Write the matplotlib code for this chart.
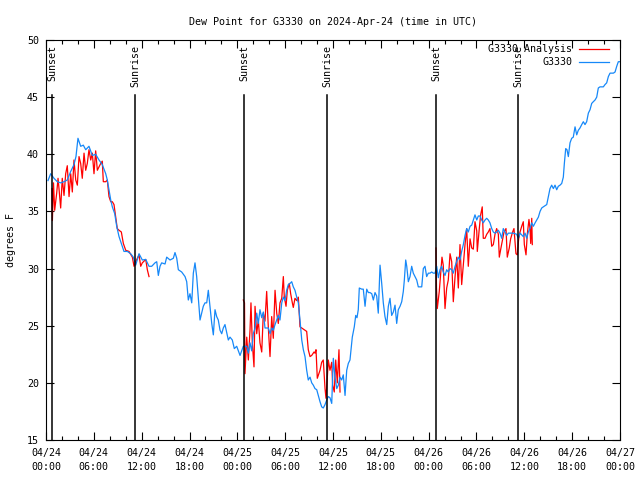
import matplotlib

matplotlib.use("Agg")
import matplotlib.pyplot as plt
from matplotlib.ticker import MultipleLocator

# hours since 2024-04-24 00:00 UTC
OBS_HOURS = [
    0.25, 0.59, 1.00, 1.42, 1.84, 2.26, 2.67, 3.10, 3.51, 3.76, 4.01, 4.35, 4.68, 4.98,
    5.39, 5.81, 6.23, 6.65, 7.06, 7.49, 7.69, 8.12, 8.32, 8.62, 8.87, 9.16, 9.45, 9.78,
    10.20, 10.62, 10.95, 11.25, 11.67, 12.08, 12.51, 12.92, 13.26, 13.67, 13.89, 14.09,
    14.30, 14.51, 14.93, 15.14, 15.56, 15.97, 16.18, 16.40, 16.60, 17.02, 17.44, 17.65,
    17.85, 18.06, 18.28, 18.48, 18.69, 18.90, 19.10, 19.32, 19.53, 19.73, 19.94, 20.16,
    20.36, 20.57, 20.79, 20.99, 21.20, 21.41, 21.61, 21.83, 22.04, 22.24, 22.45, 22.67,
    22.87, 23.08, 23.37, 23.62, 23.92, 24.34, 24.75, 25.18, 25.38, 25.59, 25.80, 26.00,
    26.22, 26.43, 26.63, 26.84, 27.06, 27.26, 27.47, 27.89, 28.10, 28.31, 28.51, 28.73,
    28.94, 29.14, 29.35, 29.57, 29.77, 29.98, 30.19, 30.39, 30.61, 30.82, 31.02, 31.23,
    31.45, 31.65, 31.86, 32.08, 32.28, 32.49, 32.70, 32.90, 33.12, 33.33, 33.53, 33.74,
    33.96, 34.16, 34.37, 34.58, 34.78, 35.00, 35.21, 35.41, 35.62, 35.84, 36.04, 36.25,
    36.47, 36.67, 36.88, 37.09, 37.29, 37.51, 37.72, 37.92, 38.13, 38.42, 38.67, 38.85,
    39.01, 39.17, 39.30, 39.60, 39.80, 40.02, 40.23, 40.43, 40.64, 40.86, 41.06, 41.27,
    41.48, 41.68, 41.90, 42.11, 42.31, 42.52, 42.74, 42.94, 43.15, 43.36, 43.57, 43.78,
    43.99, 44.19, 44.41, 44.62, 44.82, 44.95, 45.12, 45.25, 45.45, 45.66, 45.87, 46.07,
    46.29, 46.50, 46.70, 46.92, 47.13, 47.33, 47.54, 47.75, 47.96, 48.17, 48.38, 48.58,
    48.80, 49.01, 49.21, 49.42, 49.63, 49.83, 50.05, 50.26, 50.46, 50.68, 50.89, 51.09,
    51.31, 51.52, 51.72, 51.93, 52.14, 52.35, 52.56, 52.77, 52.97, 53.19, 53.40, 53.60,
    53.81, 54.03, 54.23, 54.44, 54.65, 54.85, 55.07, 55.28, 55.48, 55.69, 55.91, 56.11,
    56.32, 56.53, 56.74, 56.95, 57.16, 57.36, 57.58, 57.79, 57.99, 58.20, 58.62, 59.04,
    59.24, 59.46, 59.87, 60.09, 60.30, 60.50, 60.71, 60.93, 61.13, 61.35, 61.56, 61.76,
    61.97, 62.18, 62.38, 62.81, 63.01, 63.22, 63.43, 63.64, 63.85, 64.06, 64.26, 64.48,
    64.69, 64.89, 65.02, 65.19, 65.35, 65.52, 65.73, 65.94, 66.14, 66.36, 66.57, 66.77,
    66.98, 67.20, 67.40, 67.61, 67.82, 68.03, 68.24, 68.45, 68.65, 68.87, 69.08, 69.28,
    69.49, 69.91, 70.12, 70.33, 70.54, 70.75, 71.17, 71.38, 71.59, 71.79, 72.00,
]
OBS_DEWPT = [
    37.7, 38.3, 37.9, 37.6, 37.5, 37.6, 37.75, 38.5, 39.1, 39.8, 41.4, 40.7, 40.8, 40.4,
    40.7, 39.9, 40.0, 39.5, 39.1, 38.3, 37.75, 36.0, 35.4, 34.8, 33.7, 32.8, 32.2, 31.5,
    31.5, 31.3, 31.0, 30.3, 31.3, 30.75, 30.8, 30.2, 30.2, 30.5, 30.6, 29.4,
    30.2, 30.5, 30.4, 31.0, 30.75, 30.9, 31.4, 30.9, 29.9, 29.7, 29.3, 28.85,
    27.25, 27.8, 27.0, 29.6, 30.5, 29.3, 27.5, 25.5, 26.1, 26.7, 27.0, 27.0,
    28.1, 26.7, 25.2, 24.2, 26.4, 25.8, 25.5, 24.6, 24.3, 24.8, 25.1, 24.4,
    23.75, 24.0, 23.75, 23.0, 23.2, 22.4, 23.2, 23.2, 22.6, 23.5, 22.8, 24.3,
    24.8, 26.1, 25.2, 26.4, 25.7, 26.2, 24.8, 24.8, 24.3, 24.8, 24.6, 25.1,
    25.5, 25.9, 25.5, 27.0, 27.5, 27.2, 28.1, 28.6, 28.7, 28.85, 28.4, 28.1,
    27.5, 27.0, 25.5, 23.75, 22.9, 22.3, 21.1, 20.25, 20.5, 20.0, 19.8, 19.5,
    19.4, 18.9, 18.35, 17.9, 17.8, 18.1, 18.5, 18.8, 18.7, 18.2, 22.15, 20.5,
    19.5, 19.8, 20.5, 20.25, 20.7, 18.9, 21.1, 21.7, 22.0, 24.0, 24.9, 25.9,
    25.7, 26.4, 28.3, 28.2, 28.2, 26.7, 28.2, 27.9, 27.9, 27.8, 27.25, 27.9,
    27.6, 26.1, 30.3, 28.7, 27.0, 25.8, 25.1, 26.7, 27.4, 25.9, 26.2, 26.8,
    25.2, 26.4, 26.7, 27.1, 28.0, 29.0, 30.75, 30.2, 28.85, 29.3, 30.2, 29.6,
    29.3, 29.0, 28.4, 28.4, 28.4, 30.0, 30.2, 29.3, 29.6, 29.6, 29.7, 29.6,
    29.6, 30.2, 29.2, 29.9, 30.2, 29.7, 29.4, 29.9, 29.7, 30.0, 29.9, 29.6,
    30.2, 30.6, 31.0, 30.75, 31.5, 32.1, 32.9, 33.5, 33.2, 33.7, 33.8, 34.25,
    34.7, 34.25, 34.6, 34.6, 34.25, 34.0, 34.25, 34.4, 34.25, 34.0, 33.5, 33.2,
    33.1, 33.2, 33.35, 33.1, 32.65, 33.5, 33.2, 32.9, 33.1, 33.1, 33.1, 33.0,
    32.65, 33.1, 32.8, 33.1, 32.65, 33.2, 33.5, 34.0, 33.7, 34.0, 34.25, 34.5,
    35.0, 35.3, 35.4, 35.6, 36.3, 37.0, 37.3, 37.0, 37.3, 36.9, 37.2, 37.3,
    37.45, 38.0, 39.2, 40.5, 40.4, 39.8, 41.0, 41.4, 41.5, 42.4, 41.7, 42.1,
    42.3, 42.6, 42.85, 42.6, 42.85, 43.6, 43.9, 44.45, 44.6, 44.75, 45.0, 45.8,
    45.9, 45.9, 46.1, 46.25, 46.8, 47.1, 47.1, 47.2, 47.7, 48.1, 48.1,
]

# analysis only covers ~12 h after each sunset; None breaks the line
ANA_HOURS = [
    0.75, 0.80, 0.94, 1.09, 1.34, 1.51, 1.63, 1.84, 2.04, 2.26, 2.47, 2.67, 2.89, 3.10,
    3.30, 3.51, 3.73, 3.93, 4.14, 4.35, 4.55, 4.77, 4.98, 5.18, 5.39, 5.61, 5.81, 6.02,
    6.23, 6.44, 6.65, 6.86, 7.06, 7.19, 7.49, 7.69, 7.90, 8.12, 8.32, 8.53, 8.74, 8.94,
    9.16, 9.45, 9.70, 10.00, 10.41, 10.83, 11.04, 11.25, 11.67, 11.88, 12.08, 12.51,
    12.71, 12.92, 13.0,
    24.75, 24.90, 24.96, 25.18, 25.38, 25.59, 25.71, 25.88, 26.09, 26.22, 26.43, 26.63,
    26.84, 27.06, 27.26, 27.47, 27.68, 27.89, 28.10, 28.31, 28.51, 28.73, 28.94, 29.14,
    29.35, 29.57, 29.77, 29.89, 30.11, 30.27, 30.52, 30.69, 30.90, 31.02, 31.23, 31.45,
    31.65, 31.86, 32.08, 32.49, 32.70, 32.90, 33.12, 33.33, 33.62, 33.74, 33.87, 34.03,
    34.37, 34.58, 34.78, 35.00, 35.12, 35.29, 35.41, 35.62, 35.84, 35.96, 36.16, 36.34,
    36.54, 36.75, 36.88, 37.0,
    48.92, 48.98, 49.08, 49.33, 49.55, 49.67, 49.83, 50.05, 50.26, 50.46, 50.68, 50.89,
    51.09, 51.31, 51.52, 51.72, 51.93, 52.14, 52.35, 52.56, 52.77, 52.97, 53.19, 53.40,
    53.60, 53.81, 54.03, 54.10, 54.35, 54.52, 54.72, 54.85, 55.07, 55.28, 55.48, 55.69,
    55.91, 56.11, 56.32, 56.53, 56.74, 56.86, 57.04, 57.29, 57.45, 57.70, 57.86, 58.11,
    58.28, 58.53, 58.70, 58.95, 59.12, 59.29, 59.46, 59.67, 59.87, 60.00, 60.21, 60.37,
    60.58, 60.71, 60.80, 60.93, 61.00,
]
ANA_DEWPT = [
    37.0, 34.2, 37.5, 35.1, 36.6, 37.9, 37.0, 35.3, 37.9, 36.4, 38.3, 39.0, 36.3, 38.3,
    36.7, 39.5, 37.75, 37.3, 39.8, 39.2, 37.9, 40.1, 38.6, 39.2, 40.4, 39.5, 40.1, 38.3,
    40.3, 38.6, 38.9, 39.2, 39.4, 37.6, 37.6, 37.75, 36.3, 35.85, 35.85, 35.6, 34.55, 33.5,
    33.35, 33.2, 32.2, 31.6, 31.5, 31.0, 30.2, 30.6, 31.2, 30.2, 30.5, 30.8,
    29.9, 29.3, None,
    27.25, 27.0, 20.8, 24.0, 22.0, 24.6, 27.0, 23.5, 21.4, 26.7, 24.3, 25.5,
    23.5, 22.7, 26.1, 25.4, 28.0, 24.8, 22.3, 25.8, 23.9, 28.1, 26.1, 25.2,
    27.0, 27.4, 29.3, 27.5, 26.7, 28.1, 28.7, 27.8, 27.0, 26.6, 27.4, 27.2,
    27.5, 24.9, 24.8, 24.6, 24.5, 22.9, 22.3, 22.4, 22.7, 22.6, 22.9, 20.4,
    21.1, 21.8, 22.0, 19.5, 18.65, 20.5, 22.0, 21.1, 21.8, 19.8, 19.2, 22.0,
    20.0, 22.9, 19.2, None,
    31.8, 28.3, 26.5, 28.0, 30.0, 31.0, 30.3, 26.5, 28.3, 29.0, 31.3, 30.6,
    27.1, 29.3, 31.0, 28.3, 32.1, 28.6, 30.3, 32.1, 33.5, 30.2, 32.6, 31.8,
    31.7, 34.1, 33.3, 31.5, 33.5, 34.7, 35.4, 32.65, 32.65, 33.0, 33.2, 33.5,
    31.95, 32.1, 33.0, 33.5, 33.0, 31.0, 31.7, 32.6, 33.2, 33.5, 31.0, 31.8,
    32.6, 33.2, 33.5, 31.3, 31.2, 32.6, 33.2, 33.7, 34.1, 32.1, 31.2, 33.0,
    34.3, 33.5, 32.2, 34.4, 32.1,
]

SUN_HOURS = [0.78, 11.16, 24.86, 35.25, 48.94, 59.21]
SUN_LABELS = ["Sunset", "Sunrise", "Sunset", "Sunrise", "Sunset", "Sunrise"]

X_TICKS = [0, 6, 12, 18, 24, 30, 36, 42, 48, 54, 60, 66, 72]
X_TICK_LABELS = [
    "04/24\n00:00", "04/24\n06:00", "04/24\n12:00", "04/24\n18:00",
    "04/25\n00:00", "04/25\n06:00", "04/25\n12:00", "04/25\n18:00",
    "04/26\n00:00", "04/26\n06:00", "04/26\n12:00", "04/26\n18:00",
    "04/27\n00:00",
]
Y_TICKS = [15, 20, 25, 30, 35, 40, 45, 50]

FONT = "DejaVu Sans Mono"
FS = 7.2
RED = "#ff0000"
BLUE = "#1688f8"

plt.rcParams.update({
    "font.family": FONT,
    "font.size": FS,
    "axes.linewidth": 0.8,
})

fig = plt.figure(figsize=(6.4, 4.8), dpi=100)
ax = fig.add_axes([46 / 640, 40 / 480, 574 / 640, 400 / 480])

ax.plot(ANA_HOURS, ANA_DEWPT, color=RED, linewidth=0.9, label="G3330 Analysis")
ax.plot(OBS_HOURS, OBS_DEWPT, color=BLUE, linewidth=0.9, label="G3330")

# sunrise / sunset markers, label sits above the line
for h, lab in zip(SUN_HOURS, SUN_LABELS):
    ax.plot([h, h], [15, 45.2], color="black", linewidth=1.1)
    ax.text(h, 49.6, lab, rotation=90, ha="center", va="top", fontsize=FS)

ax.set_xlim(0, 72)
ax.set_ylim(15, 50)
ax.set_xticks(X_TICKS, X_TICK_LABELS)
for t in ax.get_xticklabels():
    t.set_linespacing(1.45)
ax.xaxis.set_minor_locator(MultipleLocator(2))
ax.set_yticks(Y_TICKS)
ax.tick_params(which="both", direction="in", top=True, right=True, width=0.8)
ax.tick_params(which="major", length=6)
ax.tick_params(which="minor", length=3)
ax.tick_params(axis="x", pad=6)
ax.tick_params(axis="y", pad=5)

ax.set_ylabel("degrees F", labelpad=8)
ax.set_title("Dew Point for G3330 on 2024-Apr-24 (time in UTC)", fontsize=FS, pad=11)

ax.legend(loc="upper right", bbox_to_anchor=(0.992, 1.005), frameon=False,
          markerfirst=False, handlelength=3.0, fontsize=FS, borderaxespad=0.2,
          labelspacing=0.3, handletextpad=0.7)

fig.savefig("out.png", dpi=100)
